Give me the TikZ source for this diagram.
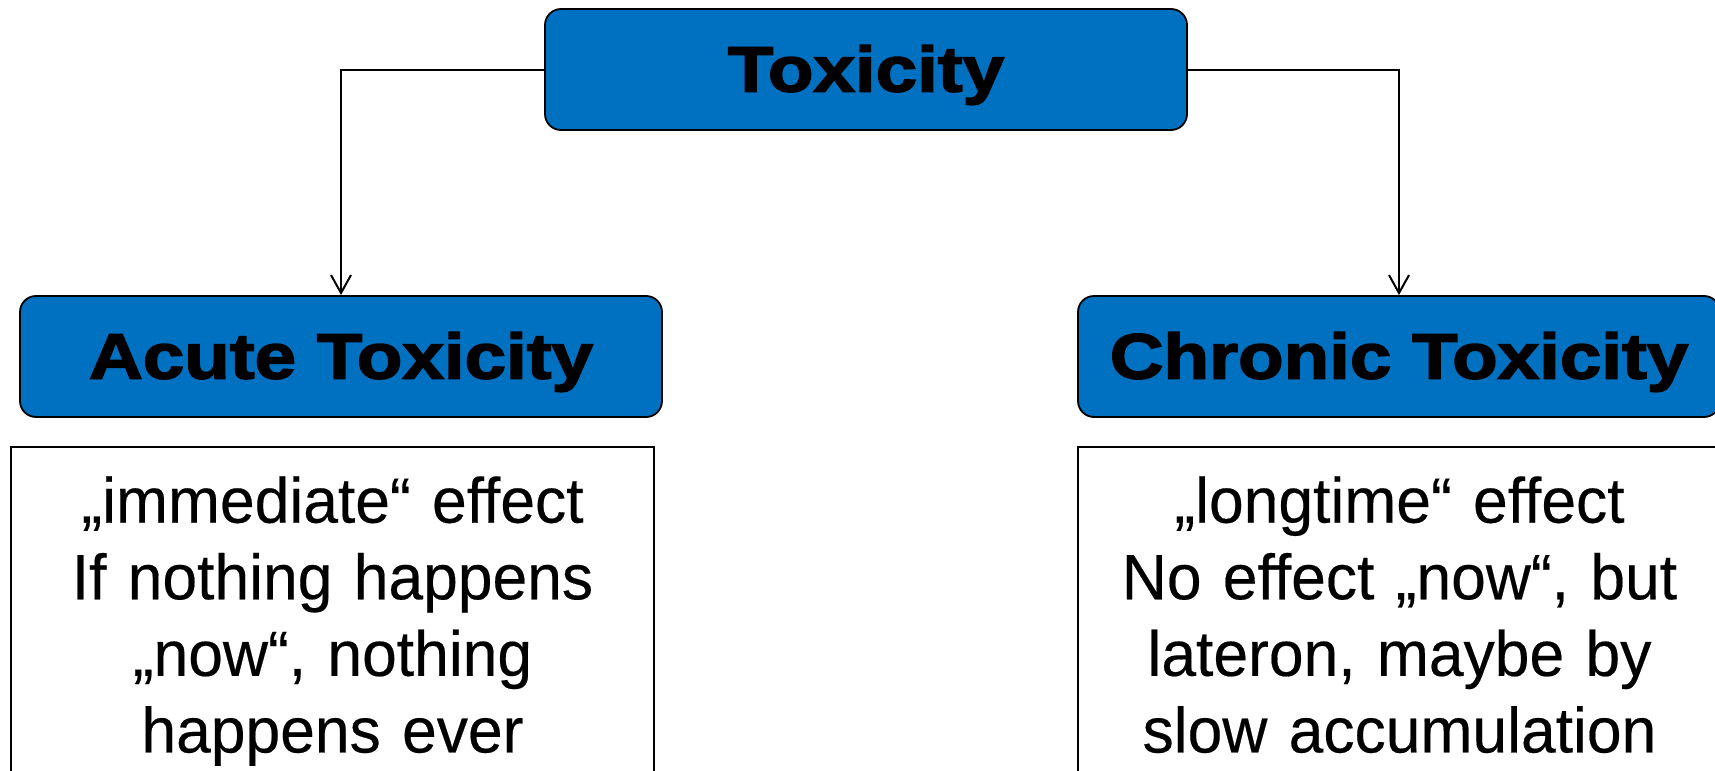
\documentclass[tikz,border=0pt]{standalone}
\usepackage{fontspec}
\setmainfont{Liberation Sans}
\newfontfamily\headfont{Liberation Sans Bold}[FakeStretch=1.165, FakeBold=2.5]
\newfontfamily\bodyfont{Liberation Sans}[FakeStretch=0.975, FakeBold=0.3]
\usetikzlibrary{arrows.meta}
\definecolor{boxblue}{RGB}{0,112,192}

\begin{document}
\begin{tikzpicture}
  [x=0.5pt, y=-0.5pt,
   head/.style={rectangle, rounded corners=8pt, draw=black, line width=0.9pt, fill=boxblue,
     minimum width=321pt, minimum height=60.5pt, inner sep=0pt,
     text height=24pt, text depth=2pt,
     font=\headfont\fontsize{32}{38}\selectfont},
   info/.style={rectangle, draw=black, line width=0.9pt, anchor=north, inner xsep=0pt,
     inner ysep=14.7pt, text width=321.5pt, align=center,
     font=\bodyfont\fontsize{32}{38.3}\selectfont},
   link/.style={-{Straight Barb[length=9pt, width=10pt]}, line width=1pt}]
  \useasboundingbox (0,0) rectangle (1715,771);
  \clip (0,0) rectangle (1715,771);
  \node (tox) at (866, 69.5) [head] {Toxicity};
  \node (acute) at (341, 356.5) [head] {Acute Toxicity};
  \node (chronic) at (1399, 356.5) [head] {Chronic Toxicity};
  \node (acutetxt) at (332.5, 446) [info]
    {„immediate“ effect\\ If nothing happens\\ „now“, nothing\\ happens ever};
  \node (chronictxt) at (1399.5, 446) [info]
    {„longtime“ effect\\ No effect „now“, but\\ lateron, maybe by\\ slow accumulation};
  \draw [link] (tox.west) -| (acute.north);
  \draw [link] (tox.east) -| (chronic.north);
\end{tikzpicture}
\end{document}
